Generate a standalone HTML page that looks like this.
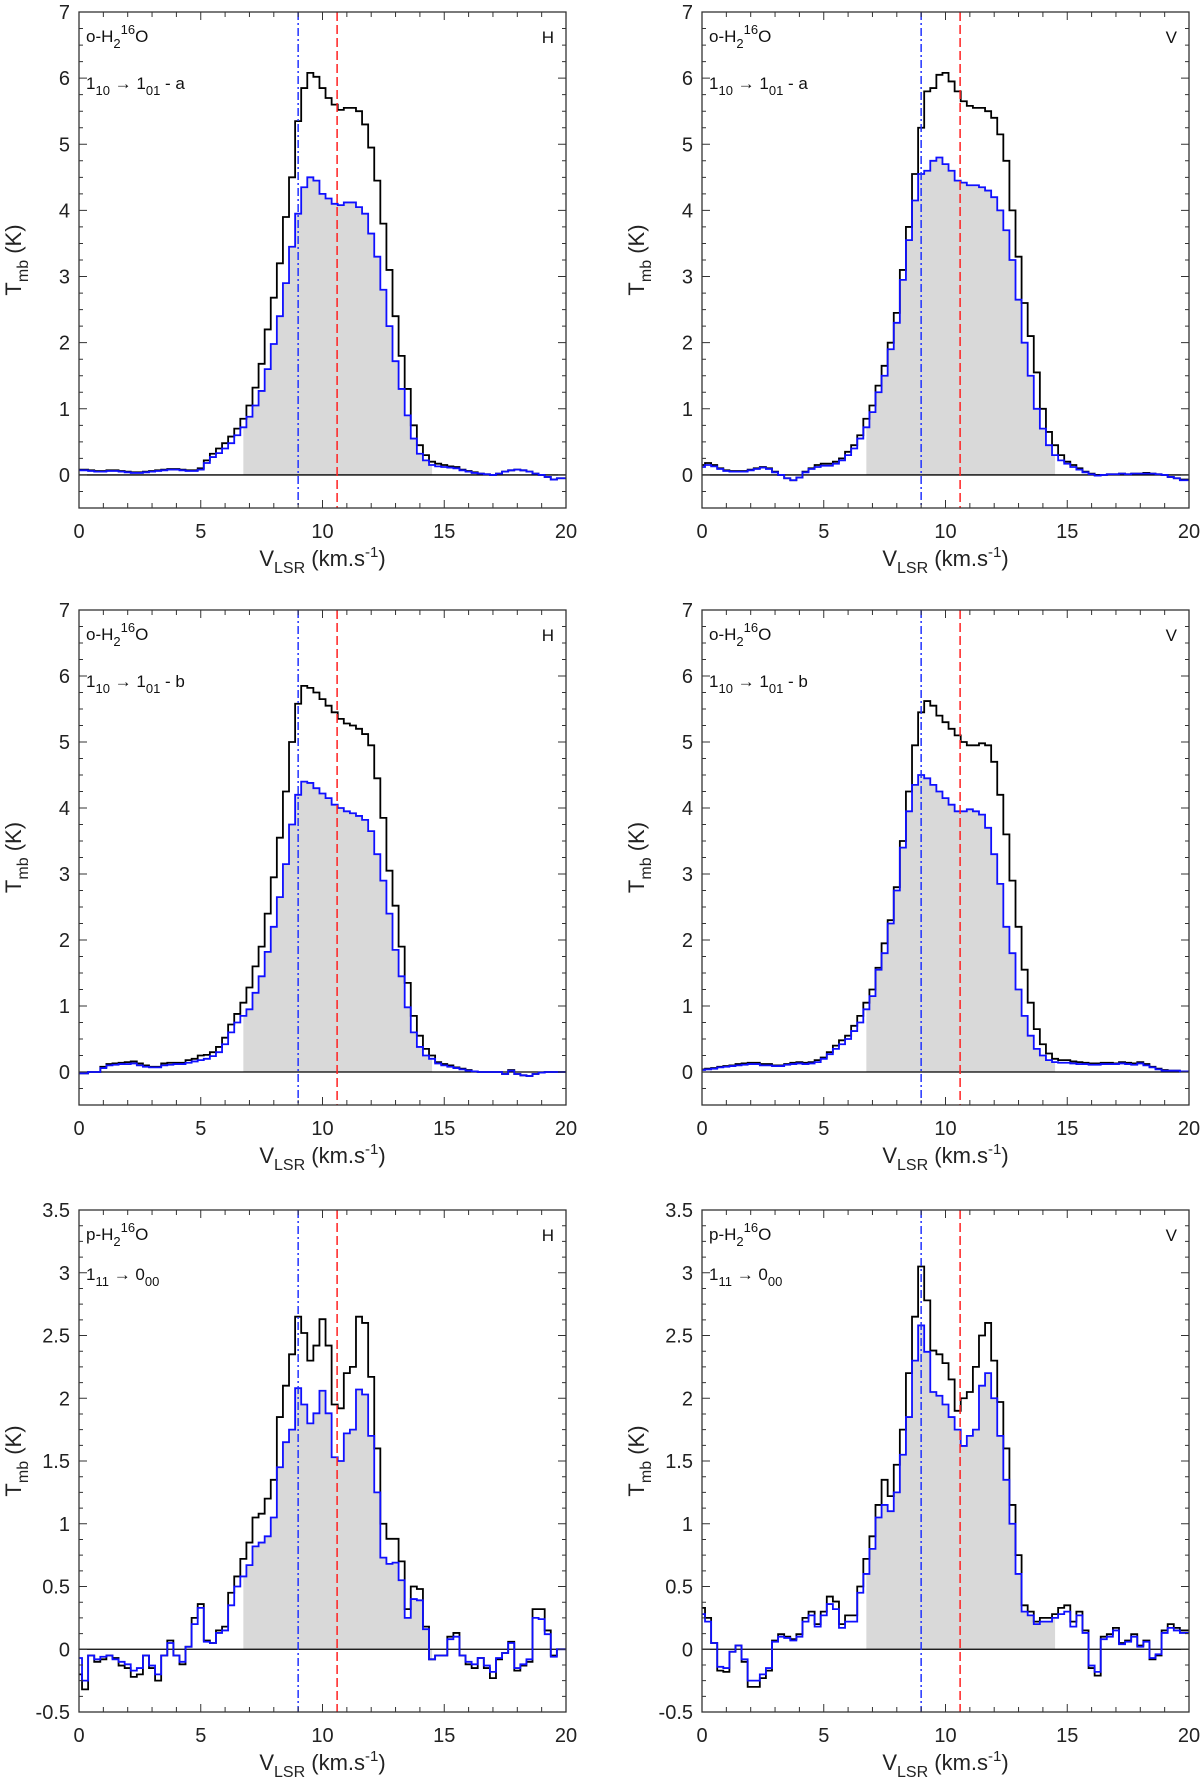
<!DOCTYPE html>
<html><head><meta charset="utf-8">
<style>
html,body{margin:0;padding:0;background:#fff;}
svg{display:block;font-family:"Liberation Sans",Arial,sans-serif;}
</style></head>
<body>
<svg id="fig" width="1200" height="1777" viewBox="0 0 1200 1777" xmlns="http://www.w3.org/2000/svg"></svg>
<script>
// ---- data (bins centred at 0, 0.25, ..., 19.75 km/s) ----
const binWidth = 0.25;
const vLinesBlue = 9.0;
const vLinesRed = 10.6;
const fillRange = [6.75, 14.5];

const aH_black = [0.08,0.08,0.07,0.06,0.06,0.07,0.07,0.06,0.05,0.04, 0.04,0.05,0.06,0.07,0.08,0.09,0.09,0.08,0.07,0.07, 0.10,0.22,0.32,0.40,0.48,0.58,0.70,0.85,1.05,1.32, 1.68,2.20,2.68,3.20,3.90,4.50,5.35,5.85,6.08,6.02, 5.85,5.70,5.60,5.52,5.55,5.55,5.50,5.30,4.95,4.45, 3.80,3.10,2.40,1.80,1.30,0.75,0.45,0.30,0.20,0.17, 0.15,0.13,0.12,0.08,0.06,0.04,0.02,0.01,0.00,0.02, 0.05,0.07,0.08,0.07,0.05,0.02,0.00,-0.03,-0.07,-0.05];
const aH_blue = [0.07,0.07,0.06,0.05,0.05,0.06,0.06,0.05,0.04,0.03, 0.03,0.04,0.05,0.06,0.07,0.08,0.08,0.07,0.06,0.06, 0.08,0.18,0.27,0.33,0.40,0.48,0.60,0.72,0.88,1.05, 1.27,1.60,1.98,2.40,2.90,3.45,3.95,4.35,4.50,4.45, 4.25,4.18,4.10,4.08,4.12,4.12,4.05,3.95,3.65,3.30, 2.80,2.25,1.72,1.30,0.90,0.55,0.32,0.22,0.15,0.13, 0.12,0.11,0.10,0.07,0.05,0.03,0.02,0.01,0.00,0.02, 0.05,0.07,0.08,0.07,0.05,0.02,0.00,-0.03,-0.07,-0.05];
const aV_black = [0.15,0.18,0.15,0.10,0.07,0.06,0.06,0.06,0.08,0.10, 0.12,0.10,0.05,0.00,-0.05,-0.08,-0.04,0.05,0.10,0.15, 0.17,0.17,0.20,0.25,0.35,0.45,0.60,0.85,1.05,1.35, 1.65,2.00,2.45,3.10,3.75,4.55,5.25,5.80,5.85,6.05, 6.08,5.95,5.80,5.65,5.58,5.55,5.55,5.50,5.40,5.15, 4.75,4.00,3.30,2.60,2.10,1.55,1.00,0.65,0.45,0.30, 0.20,0.15,0.10,0.05,0.02,0.00,0.00,0.01,0.01,0.02, 0.01,0.02,0.02,0.03,0.02,0.01,0.00,-0.03,-0.05,-0.07];
const aV_blue = [0.12,0.15,0.13,0.09,0.06,0.05,0.05,0.05,0.07,0.09, 0.11,0.09,0.04,0.00,-0.05,-0.08,-0.04,0.04,0.09,0.12, 0.14,0.14,0.17,0.22,0.30,0.40,0.55,0.72,0.95,1.25, 1.50,1.90,2.30,2.95,3.55,4.15,4.55,4.60,4.75,4.80, 4.70,4.60,4.45,4.42,4.38,4.38,4.35,4.30,4.20,4.00, 3.70,3.25,2.65,2.00,1.50,1.00,0.70,0.45,0.30,0.22, 0.17,0.12,0.08,0.04,0.01,-0.01,0.00,0.01,0.01,0.02, 0.01,0.02,0.02,0.02,0.02,0.01,0.00,-0.03,-0.05,-0.08];
const bH_black = [-0.02,-0.02,0.00,0.00,0.08,0.12,0.13,0.14,0.15,0.16, 0.13,0.10,0.08,0.08,0.13,0.14,0.14,0.14,0.18,0.20, 0.25,0.26,0.30,0.38,0.52,0.72,0.88,1.05,1.28,1.60, 1.90,2.40,2.95,3.55,4.25,5.00,5.58,5.85,5.82,5.75, 5.65,5.55,5.45,5.35,5.28,5.25,5.20,5.12,4.95,4.45, 3.85,3.05,2.52,1.90,1.35,0.85,0.55,0.35,0.25,0.15, 0.12,0.10,0.07,0.05,0.03,0.01,0.00,0.00,0.00,0.00, -0.03,0.03,-0.03,-0.05,-0.06,-0.03,-0.01,0.00,0.00,0.00];
const bH_blue = [-0.02,-0.02,0.00,0.00,0.06,0.10,0.11,0.12,0.12,0.13, 0.10,0.08,0.07,0.07,0.10,0.11,0.12,0.12,0.14,0.16, 0.18,0.20,0.24,0.30,0.42,0.60,0.75,0.85,0.95,1.20, 1.45,1.82,2.20,2.65,3.15,3.75,4.20,4.40,4.38,4.30, 4.22,4.15,4.05,4.00,3.95,3.92,3.88,3.82,3.65,3.30, 2.90,2.40,1.85,1.45,0.98,0.60,0.38,0.25,0.20,0.13, 0.10,0.08,0.06,0.04,0.02,0.01,0.00,0.00,0.00,0.00, -0.03,0.02,-0.03,-0.05,-0.06,-0.03,-0.01,0.00,0.00,0.00];
const bV_black = [0.04,0.05,0.06,0.08,0.09,0.10,0.12,0.13,0.14,0.14, 0.12,0.12,0.10,0.10,0.12,0.14,0.15,0.14,0.15,0.18, 0.22,0.30,0.40,0.48,0.55,0.70,0.85,1.05,1.25,1.58, 1.95,2.30,2.80,3.50,4.25,4.95,5.45,5.62,5.55,5.40, 5.30,5.20,5.10,5.00,4.95,4.95,4.98,4.95,4.70,4.20, 3.60,2.90,2.20,1.55,1.05,0.65,0.42,0.28,0.20,0.18, 0.18,0.16,0.15,0.14,0.13,0.13,0.14,0.14,0.13,0.15, 0.14,0.13,0.15,0.12,0.08,0.05,0.03,0.02,0.02,0.01];
const bV_blue = [0.03,0.04,0.05,0.07,0.08,0.09,0.10,0.11,0.12,0.12, 0.10,0.10,0.09,0.09,0.11,0.12,0.13,0.12,0.13,0.15, 0.20,0.27,0.35,0.42,0.50,0.62,0.75,0.95,1.15,1.55, 1.80,2.25,2.75,3.40,3.95,4.35,4.50,4.45,4.35,4.25, 4.15,4.05,3.95,3.95,3.98,3.95,3.90,3.70,3.30,2.85, 2.20,1.80,1.25,0.85,0.55,0.35,0.25,0.18,0.15,0.14, 0.14,0.13,0.12,0.12,0.11,0.11,0.12,0.12,0.12,0.13, 0.12,0.11,0.13,0.10,0.07,0.04,0.02,0.02,0.02,0.01];
const pH_black = [-0.2,-0.32,-0.05,-0.1,-0.08,-0.05,-0.07,-0.13,-0.15,-0.22, -0.2,-0.05,-0.15,-0.25,-0.05,0.07,-0.05,-0.12,0.02,0.25, 0.36,0.07,0.05,0.15,0.18,0.45,0.58,0.72,0.85,1.05, 1.08,1.2,1.35,1.85,2.1,2.35,2.65,2.52,2.3,2.42, 2.63,2.42,1.95,1.92,2.2,2.25,2.65,2.6,2.17,1.6, 1.0,0.88,0.88,0.7,0.32,0.5,0.48,0.18,-0.08,-0.05, -0.05,0.1,0.13,-0.05,-0.12,-0.15,-0.07,-0.15,-0.23,-0.08, -0.03,0.06,-0.17,-0.13,-0.1,0.32,0.32,0.15,-0.05,0.0];
const pH_blue = [-0.07,-0.25,-0.05,-0.08,-0.06,-0.05,-0.08,-0.1,-0.12,-0.17, -0.15,-0.05,-0.13,-0.2,-0.05,0.05,-0.05,-0.1,0.02,0.2, 0.33,0.06,0.05,0.13,0.15,0.35,0.5,0.58,0.67,0.82, 0.85,0.9,1.05,1.45,1.65,1.75,2.08,1.95,1.8,1.88, 2.06,1.88,1.53,1.5,1.72,1.75,2.07,2.03,1.7,1.25, 0.73,0.68,0.69,0.55,0.25,0.4,0.39,0.16,-0.08,-0.05, -0.05,0.08,0.1,-0.05,-0.1,-0.12,-0.07,-0.13,-0.18,-0.07, -0.03,0.05,-0.15,-0.12,-0.08,0.25,0.24,0.12,-0.06,0.0];
const pV_black = [0.33,0.25,0.05,-0.17,-0.18,-0.02,0.03,-0.1,-0.3,-0.3, -0.23,-0.17,0.07,0.12,0.1,0.08,0.12,0.25,0.3,0.2, 0.3,0.42,0.38,0.2,0.27,0.27,0.5,0.72,0.9,1.15, 1.35,1.22,1.47,1.75,2.2,2.65,3.05,2.78,2.38,2.35, 2.28,2.15,1.9,2.0,2.05,2.25,2.5,2.6,2.3,1.97, 1.6,1.15,0.75,0.35,0.3,0.22,0.25,0.25,0.28,0.33, 0.35,0.22,0.3,0.15,-0.15,-0.21,0.1,0.12,0.17,0.05, 0.07,0.12,0.03,0.07,-0.08,-0.05,0.15,0.2,0.17,0.15];
const pV_blue = [0.28,0.22,0.05,-0.14,-0.15,-0.02,0.03,-0.08,-0.25,-0.25, -0.2,-0.15,0.06,0.1,0.09,0.07,0.1,0.22,0.27,0.18, 0.27,0.36,0.32,0.17,0.22,0.22,0.45,0.6,0.8,1.05, 1.15,1.1,1.25,1.55,1.85,2.3,2.58,2.37,2.05,2.02, 1.95,1.85,1.75,1.62,1.7,1.75,2.1,2.2,2.0,1.7, 1.35,1.0,0.6,0.3,0.27,0.2,0.22,0.22,0.25,0.28, 0.3,0.18,0.27,0.13,-0.13,-0.18,0.08,0.1,0.15,0.04, 0.06,0.1,0.02,0.06,-0.07,-0.04,0.13,0.17,0.15,0.13];

const xTicks = [0,5,10,15,20];
const yTicksO = ["0","1","2","3","4","5","6","7"];
const yTicksP = ["-0.5","0","0.5","1","1.5","2","2.5","3","3.5"];

const panels = [
  {name:'o-a-h', x:79, y:12, h:496, ymin:-0.5, ymax:7, ticks:yTicksO, minor:0.25, sp:'o', tr:['1','10','1','01',' - a'], pol:'H', black:aH_black, blue:aH_blue},
  {name:'o-a-v', x:702, y:12, h:496, ymin:-0.5, ymax:7, ticks:yTicksO, minor:0.25, sp:'o', tr:['1','10','1','01',' - a'], pol:'V', black:aV_black, blue:aV_blue},
  {name:'o-b-h', x:79, y:610, h:495, ymin:-0.5, ymax:7, ticks:yTicksO, minor:0.25, sp:'o', tr:['1','10','1','01',' - b'], pol:'H', black:bH_black, blue:bH_blue},
  {name:'o-b-v', x:702, y:610, h:495, ymin:-0.5, ymax:7, ticks:yTicksO, minor:0.25, sp:'o', tr:['1','10','1','01',' - b'], pol:'V', black:bV_black, blue:bV_blue},
  {name:'p-h', x:79, y:1210, h:502, ymin:-0.5, ymax:3.5, ticks:yTicksP, minor:0.125, sp:'p', tr:['1','11','0','00',''], pol:'H', black:pH_black, blue:pH_blue},
  {name:'p-v', x:702, y:1210, h:502, ymin:-0.5, ymax:3.5, ticks:yTicksP, minor:0.125, sp:'p', tr:['1','11','0','00',''], pol:'V', black:pV_black, blue:pV_blue}
];
const W = 487;
const NS = 'http://www.w3.org/2000/svg';
const svg = document.getElementById('fig');
function mk(tag, attrs, parent){ const e=document.createElementNS(NS,tag); for(const k in attrs) e.setAttribute(k,attrs[k]); (parent||svg).appendChild(e); return e; }

panels.forEach(p=>{
  const g = mk('g',{});
  
  
  const X = v => p.x + (v-0)/20*W;
  const Y = t => p.y + (p.ymax - t)/(p.ymax-p.ymin)*p.h;
  const cp = 'clip-'+p.name;
  const defs = mk('defs',{},g);
  const c = mk('clipPath',{id:cp},defs);
  mk('rect',{x:p.x,y:p.y,width:W,height:p.h},c);
  function stepPts(arr, lo, hi){
    const pts=[];
    for(let i=0;i<arr.length;i++){
      let a = i*binWidth - binWidth/2, b = i*binWidth + binWidth/2;
      if(i===arr.length-1) b = 20;
      a=Math.max(a,lo); b=Math.min(b,hi);
      if(b<=a) continue;
      pts.push([X(a),Y(arr[i])],[X(b),Y(arr[i])]);
    }
    return pts;
  }
  const fp = stepPts(p.blue, fillRange[0], fillRange[1]);
  let d = 'M'+X(fillRange[0])+','+Y(0)+' '+fp.map(q=>'L'+q[0].toFixed(2)+','+q[1].toFixed(2)).join(' ')+' L'+X(fillRange[1])+','+Y(0)+'Z';
  const fill = mk('path',{d:d,fill:'#d9d9d9',stroke:'none','clip-path':'url(#'+cp+')'},g);
  
  
  const zl = mk('line',{x1:p.x,x2:p.x+W,y1:Y(0),y2:Y(0),stroke:'#000','stroke-width':1.3},g);
  
  
  [['black','#000',p.black],['blue','#1010ff',p.blue]].forEach(s=>{
    const pts = stepPts(s[2],0,20);
    const path = mk('path',{d:'M'+pts.map(q=>q[0].toFixed(2)+','+q[1].toFixed(2)).join(' L'),fill:'none',stroke:s[1],'stroke-width':1.8,'clip-path':'url(#'+cp+')'},g);
    
    
  });
  const vb = mk('line',{x1:X(vLinesBlue),x2:X(vLinesBlue),y1:p.y,y2:p.y+p.h,stroke:'#2233ff','stroke-width':1.5,'stroke-dasharray':'8,3,2,3'},g);
  
  
  const vr = mk('line',{x1:X(vLinesRed),x2:X(vLinesRed),y1:p.y,y2:p.y+p.h,stroke:'#ff2020','stroke-width':1.5,'stroke-dasharray':'9,4'},g);
  
  
  const fr = mk('rect',{x:p.x,y:p.y,width:W,height:p.h,fill:'none',stroke:'#333','stroke-width':1.3},g);
  
  
  let tk='';
  for(let v=0;v<=20;v++){
    const L = (v%5===0)?8:5;
    tk+='M'+X(v)+','+(p.y+p.h)+'v'+(-L)+'M'+X(v)+','+p.y+'v'+L;
  }
  for(let t=p.ymin;t<=p.ymax+1e-9;t+=p.minor){
    const major = Math.abs(t*2-Math.round(t*2))<1e-6 && (p.ymax>5 ? Math.abs(t-Math.round(t))<1e-6 : true);
    const L = major?8:4;
    tk+='M'+p.x+','+Y(t)+'h'+L+'M'+(p.x+W)+','+Y(t)+'h'+(-L);
  }
  mk('path',{d:tk,stroke:'#333','stroke-width':1,fill:'none'},g);
  xTicks.forEach(v=>{
    const t = mk('text',{x:X(v),y:p.y+p.h+30,'font-size':20,'text-anchor':'middle',fill:'#222'},g);
    t.textContent=v;
    
    
  });
  p.ticks.forEach(s=>{
    const t = mk('text',{x:p.x-9,y:Y(parseFloat(s))+7,'font-size':20,'text-anchor':'end',fill:'#222'},g);
    t.textContent=s;
    
    
  });
  const xt = mk('text',{x:p.x+W/2,y:p.y+p.h+58,'font-size':22,'text-anchor':'middle',fill:'#222'},g);
  xt.innerHTML = 'V<tspan font-size="16" dy="7">LSR</tspan><tspan dy="-7"> (km.s</tspan><tspan font-size="15" dy="-9">-1</tspan><tspan dy="9">)</tspan>';
  
  
  const yx = p.x-58, yy = p.y+p.h/2;
  const yt = mk('text',{x:yx,y:yy,'font-size':22,'text-anchor':'middle',fill:'#222',transform:'rotate(-90 '+yx+' '+yy+')'},g);
  yt.innerHTML = 'T<tspan font-size="16" dy="7">mb</tspan><tspan dy="-7"> (K)</tspan>';
  
  
  const sp = mk('text',{x:p.x+7,y:p.y+30,'font-size':17,fill:'#111'},g);
  sp.innerHTML = p.sp+'-H<tspan font-size="13" dy="6">2</tspan><tspan font-size="13" dy="-14">16</tspan><tspan dy="8">O</tspan>';
  
  
  const tr = mk('text',{x:p.x+7,y:p.y+(p.ymax>5?77:70),'font-size':17,fill:'#111'},g);
  tr.innerHTML = p.tr[0]+'<tspan font-size="13" dy="6">'+p.tr[1]+'</tspan><tspan dy="-6"> \u2192 '+p.tr[2]+'</tspan><tspan font-size="13" dy="6">'+p.tr[3]+'</tspan><tspan dy="-6">'+p.tr[4]+'</tspan>';
  
  
  const po = mk('text',{x:p.x+W-12,y:p.y+31,'font-size':17,'text-anchor':'end',fill:'#111'},g);
  po.textContent = p.pol;
  
  
});
</script>
</body></html>
